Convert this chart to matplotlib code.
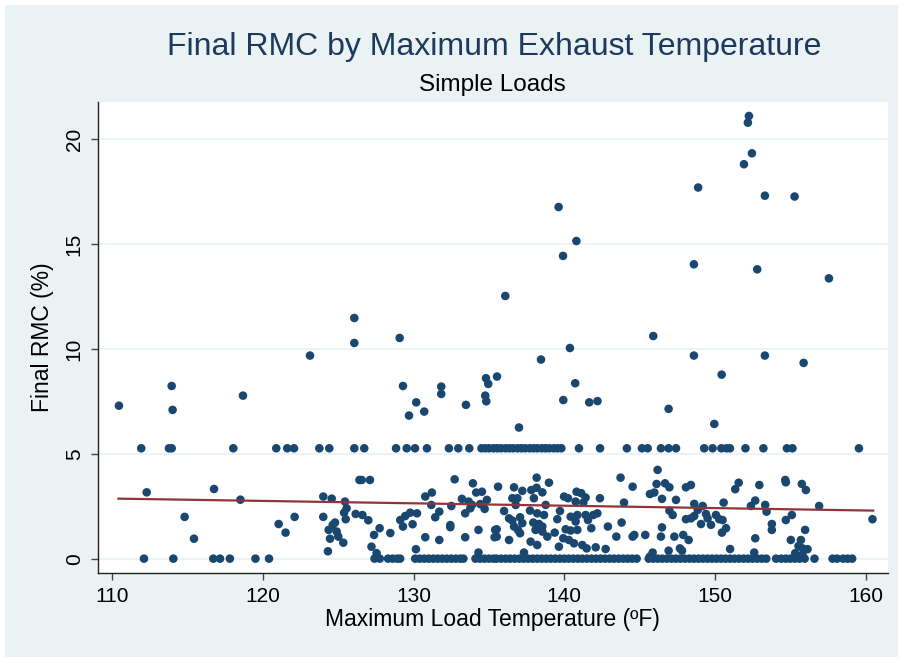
import matplotlib
matplotlib.use("Agg")
import matplotlib.pyplot as plt
from matplotlib.patches import Rectangle

plt.rcParams['font.family'] = ['Liberation Sans', 'DejaVu Sans']

# ---------------- data ----------------
# points on the RMC = 0 row (temperature only)
zero_temp = [112.1, 114.05, 116.7, 117.15, 117.8, 119.5, 120.4,
             127.4, 127.75, 128.3, 128.6, 128.9, 129.1,
             130.1, 130.4, 130.7, 131.0, 131.3, 131.6, 131.9, 132.2, 132.5, 132.8, 133.1, 133.3,
             134.1, 134.4, 134.7, 135.0, 135.3, 135.5, 135.8, 136.1, 136.4, 136.7, 137.0, 137.3,
             137.6, 137.9, 138.2, 138.5, 138.8, 139.1, 139.4, 139.7, 140.0, 140.3, 140.6, 140.9,
             141.2, 141.5, 141.8, 142.1, 142.4, 142.7, 143.0, 143.3, 143.6, 143.9, 144.2, 144.5,
             144.8, 145.6, 145.9, 146.2, 146.5, 146.8, 147.1, 147.4, 147.7, 148.0, 148.3, 148.6,
             148.9, 149.2, 149.5, 149.8, 150.1, 150.4, 150.7, 151.0, 151.3, 151.6, 151.9, 152.2,
             152.5, 152.8, 153.1, 153.4,
             154.05, 154.4, 154.7, 155.0, 155.3, 155.6, 155.95, 156.6, 157.8, 158.1, 158.5, 158.8, 159.1]
zero_rmc = 0.0

# points on the RMC = 5.26 row (temperature only)
row5_temp = [111.92, 113.76, 113.94, 118.03, 120.88, 121.61, 122.06, 123.74, 124.4, 126.06, 126.72,
             128.83, 129.54, 130.09, 130.88, 132.34, 132.96, 133.69, 134.5, 134.75, 135.0, 135.3,
             135.55, 135.8, 136.1, 136.35, 136.6, 136.9, 137.15, 137.4, 137.7, 137.95, 138.2, 138.5,
             138.75, 139.0, 139.3, 139.55, 139.8, 140.97, 142.37, 144.15, 145.15, 145.53, 146.41,
             146.92, 147.41, 149.28, 149.84, 150.42, 150.76, 150.99, 152.02, 153.21, 154.77, 155.14,
             159.55]
row5_rmc = 5.26

# higher points (RMC > 5.5)
high_temp = [110.44, 113.94, 114.0, 118.67, 123.12, 126.06, 126.06,
             139.62, 140.8, 139.91, 136.08, 145.9, 129.07, 140.37, 138.45, 129.29, 131.83, 131.83,
             134.8, 134.95, 135.53, 134.75, 134.82, 140.72, 139.93, 141.65, 142.2, 130.17, 129.69,
             130.7, 133.47, 146.92, 136.99,
             152.25, 152.18, 152.45, 151.92, 148.88, 153.31, 155.28, 148.6, 152.8, 157.56, 148.6,
             153.31, 155.88, 150.44, 149.95]
high_rmc = [7.29, 8.23, 7.09, 7.77, 9.68, 11.47, 10.28,
            16.76, 15.14, 14.43, 12.52, 10.61, 10.52, 10.04, 9.49, 8.23, 8.2, 7.85,
            8.6, 8.33, 8.68, 7.77, 7.5, 8.36, 7.56, 7.45, 7.51, 7.45, 6.82,
            7.01, 7.33, 7.14, 6.25,
            21.1, 20.78, 19.32, 18.8, 17.69, 17.3, 17.26, 14.03, 13.79, 13.36, 9.68,
            9.68, 9.33, 8.77, 6.42]

# band points (0 < RMC < 4.5)
band_temp = [112.28, 116.75, 114.8, 115.42, 118.5, 121.04, 121.5, 122.1, 124.0, 124.56, 125.44,
             125.55, 125.38, 125.49, 126.15, 126.6, 126.99, 124.0, 124.78, 124.63, 124.36, 124.45,
             124.89, 125.0, 125.33, 124.31, 127.37, 127.74, 127.2, 127.54, 128.45, 126.4, 126.55, 127.1,
             132.72, 133.93, 134.15, 134.53, 135.6, 130.77, 131.21, 133.2, 134.86, 133.65, 131.17,
             132.5, 133.87, 134.42, 133.76, 134.71, 133.42, 131.7, 131.43, 130.22, 129.77, 129.44,
             129.11, 129.29, 129.93, 132.43, 132.43, 134.3, 135.41, 130.77, 131.7, 133.42, 135.37,
             130.15, 134.3,
             136.66, 137.21, 138.16, 137.81, 138.16, 138.54, 138.98, 136.0, 136.55, 136.88, 136.77,
             136.33, 136.55, 137.06, 137.21, 136.66, 136.92, 136.33, 137.06, 137.72, 137.98, 138.76,
             138.2, 138.65, 137.94, 138.32, 138.54, 138.09, 138.54, 138.87, 137.76, 138.2, 137.32,
             139.71, 139.53, 139.36, 140.09, 140.42, 139.93, 140.3, 139.64, 139.98, 140.24, 140.81,
             141.12, 141.41, 140.75, 141.26, 140.42, 140.86, 140.75, 140.86, 140.64, 141.19, 141.48,
             141.41, 141.57, 141.92, 141.79, 142.19, 142.36, 142.08, 142.74, 142.89, 143.45, 143.8,
             143.96, 143.73, 135.51, 135.51,
             146.19, 144.53, 146.12, 146.68, 146.97, 145.68, 145.97, 146.48, 147.41, 148.07, 148.4,
             146.97, 147.19, 148.62, 149.18, 148.85, 148.07, 148.4, 148.62, 149.4, 149.51, 149.07,
             149.73, 150.06, 150.28, 150.5, 150.57, 150.73, 150.46, 151.34, 151.57, 152.38, 152.67,
             152.94, 144.53, 144.64, 145.37, 146.41, 146.48, 147.3, 147.89, 148.25, 146.92, 147.67,
             147.81, 145.86, 145.68, 151.0, 152.67, 152.6,
             154.66, 154.7, 155.76, 156.03, 153.33, 153.42, 156.91, 160.45, 155.1, 154.7, 153.77,
             153.77, 155.98, 155.03, 155.7, 155.54, 155.81, 156.14, 155.32, 155.81]
band_rmc = [3.16, 3.32, 1.99, 0.95, 2.81, 1.65, 1.24, 1.99, 2.96, 2.86, 2.72,
            2.40, 2.19, 1.88, 2.13, 2.08, 1.83, 1.99, 1.72, 1.61, 1.37, 0.95,
            1.29, 1.05, 0.76, 0.35, 1.13, 1.45, 0.57, 0.26, 1.22, 3.75, 3.75, 3.75,
            3.78, 3.59, 3.15, 3.19, 3.43, 2.96, 3.15, 2.85, 2.8, 2.72, 2.56,
            2.51, 2.56, 2.6, 2.4, 2.37, 2.16, 2.24, 1.97, 2.16, 2.19, 2.03,
            1.84, 1.53, 1.64, 1.6, 1.5, 1.37, 1.37, 1.02, 0.89, 1.02, 1.02,
            0.45, 0.29,
            3.4, 3.23, 3.86, 3.27, 3.38, 3.16, 3.62, 2.27, 2.88, 2.88, 2.56,
            1.92, 1.81, 1.97, 1.69, 1.53, 1.37, 0.89, 1.21, 2.29, 2.88, 2.56,
            2.16, 2.08, 1.72, 1.65, 1.53, 1.37, 1.29, 1.05, 0.81, 0.65, 0.29,
            2.27, 1.88, 1.24, 1.4, 1.34, 0.97, 0.89, 0.57, 2.96, 2.88, 3.19,
            3.12, 2.91, 2.72, 2.67, 2.0, 2.08, 1.77, 1.37, 0.73, 0.65, 0.49,
            2.08, 1.84, 2.08, 1.45, 2.16, 2.88, 0.54, 0.46, 1.53, 1.05, 1.72,
            2.67, 3.86, 1.4, 1.05,
            4.23, 3.43, 3.56, 3.59, 3.4, 3.08, 3.15, 2.85, 2.8, 3.4, 3.51,
            2.29, 2.08, 2.61, 2.51, 2.32, 1.88, 1.92, 2.03, 2.13, 1.92, 1.65,
            1.61, 2.08, 1.88, 1.84, 2.67, 1.45, 1.24, 3.31, 3.62, 2.51, 2.77,
            3.51, 1.05, 1.13, 1.13, 1.05, 1.49, 1.05, 1.13, 0.89, 0.38, 0.49,
            0.38, 0.29, 0.1, 0.46, 0.97, 0.29,
            3.75, 3.64, 3.56, 3.27, 2.56, 2.24, 2.51, 1.88, 2.08, 1.84, 1.65,
            1.37, 1.37, 0.89, 0.89, 0.6, 0.49, 0.45, 0.26, 0.18]

# linear fit line end points
fit_temp = [110.4, 160.5]
fit_rmc = [2.86, 2.29]

x_ticks = [110, 120, 130, 140, 150, 160]
y_ticks = [0, 5, 10, 15, 20]

title = "Final RMC by Maximum Exhaust Temperature"
subtitle = "Simple Loads"
x_label = "Maximum Load Temperature (\u00baF)"
y_label = "Final RMC (%)"

# ---------------- plot ----------------
BG = "#EAF2F3"
NAVY = "#1A476F"
RED = "#90353B"

W, H = 901, 659
fig = plt.figure(figsize=(W / 100, H / 100), dpi=100, facecolor="white")
fig.patches.append(Rectangle((5 / W, 2 / H), 893 / W, 652 / H, transform=fig.transFigure,
                             facecolor=BG, edgecolor="none", zorder=-10))

ax = fig.add_axes([97.7 / W, (H - 572.7) / H, 790 / W, 471 / H])
ax.set_facecolor("white")

all_x = zero_temp + row5_temp + high_temp + band_temp
all_y = [zero_rmc] * len(zero_temp) + [row5_rmc] * len(row5_temp) + high_rmc + band_rmc
ax.scatter(all_x, all_y, s=38, color=NAVY, edgecolors="none", zorder=3)
ax.plot(fit_temp, fit_rmc, color=RED, lw=1.6, zorder=4)

ax.set_xlim(109.03, 161.46)
ax.set_ylim(-0.67, 21.78)
ax.set_xticks(x_ticks)
ax.set_yticks(y_ticks)
ax.grid(axis="y", color=BG, lw=1.3, zorder=0)
ax.set_axisbelow(True)

for s in ["top", "right"]:
    ax.spines[s].set_visible(False)
for s in ["left", "bottom"]:
    ax.spines[s].set_color("#222222")
    ax.spines[s].set_linewidth(1.0)

ax.tick_params(axis="both", direction="out", length=5, width=1.0, color="#444444",
               labelsize=15, labelcolor="black", pad=5)
for lab in ax.get_yticklabels():
    lab.set_rotation(90)
    lab.set_va("center")

ax.set_xlabel(x_label, fontsize=16.5, labelpad=2)
ax.set_ylabel(y_label, fontsize=16.5, labelpad=8)

fig.text(494 / W, 1 - 47 / H, title, ha="center", va="center", fontsize=23, color="#1C3A5E")
fig.text(492 / W, 1 - 85 / H, subtitle, ha="center", va="center", fontsize=17.5, color="black")

fig.savefig("out.png", dpi=100, facecolor=fig.get_facecolor())
